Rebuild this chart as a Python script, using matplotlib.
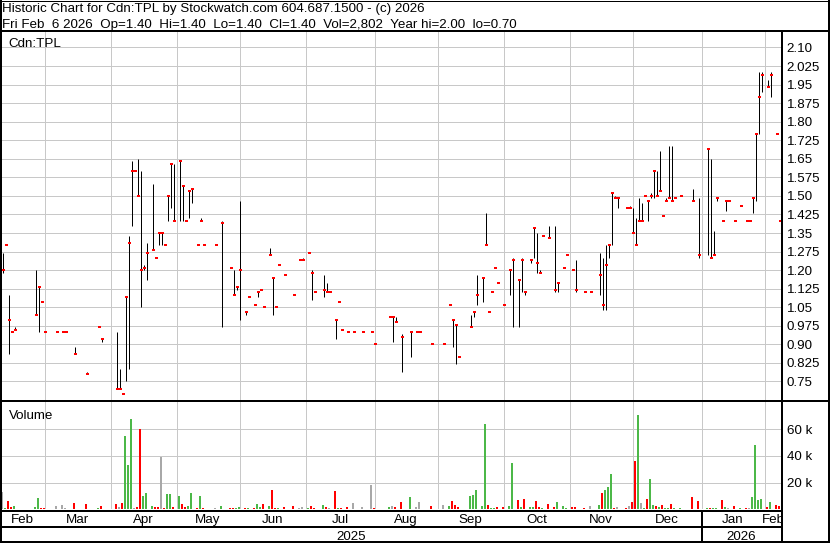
import matplotlib
matplotlib.use("Agg")
import matplotlib.pyplot as plt
import numpy as np
import pandas as pd

plt.rcParams["font.family"] = ["Liberation Sans", "DejaVu Sans"]

# ---------------- data ----------------
first_day = "2025-02-10"   # first weekday slot on the chart
last_day = "2026-02-06"    # last weekday slot on the chart

# weekday slot (0 = first_day) of every session with trades
trade_slot = [0, 1, 2, 3, 4, 11, 12, 13, 14, 18,
              20, 21, 24, 28, 32, 33, 38, 39, 40, 41,
              42, 43, 44, 45, 46, 47, 48, 50, 51, 52,
              53, 54, 55, 56, 57, 59, 60, 61, 62, 63,
              65, 66, 67, 71, 73, 76, 77, 78, 79, 81,
              82, 84, 85, 86, 87, 89, 90, 91, 92, 94,
              97, 99, 100, 102, 103, 104, 107, 108, 109, 111,
              112, 113, 115, 117, 120, 123, 124, 129, 130, 131,
              133, 136, 138, 139, 143, 147, 149, 150, 151, 152,
              156, 157, 158, 160, 161, 162, 163, 164, 165, 167,
              169, 170, 172, 173, 174, 176, 177, 178, 179, 180,
              182, 184, 185, 187, 188, 190, 191, 194, 196, 199,
              200, 201, 202, 203, 204, 205, 208, 209, 210, 211,
              212, 213, 214, 215, 216, 217, 218, 219, 220, 221,
              222, 223, 224, 226, 230, 232, 235, 236, 237, 238,
              240, 241, 242, 244, 246, 248, 249, 250, 251, 252,
              253, 255, 256, 258, 259]

high = [1.27, 1.30, 1.10, 0.95, 0.97, 1.20, 1.13, 1.07, 0.95, 0.95,
        0.95, 0.95, 0.89, 0.79, 0.97, 0.92, 0.95, 0.80, 0.70, 1.09,
        1.34, 1.64, 1.60, 1.65, 1.60, 1.22, 1.31, 1.55, 1.25, 1.35,
        1.35, 1.30, 1.50, 1.63, 1.63, 1.64, 1.54, 1.40, 1.52, 1.53,
        1.30, 1.41, 1.30, 1.30, 1.40, 1.21, 1.20, 1.13, 1.48, 1.03,
        1.09, 1.06, 1.11, 1.12, 1.05, 1.29, 1.17, 1.05, 1.22, 1.18,
        1.10, 1.24, 1.25, 1.27, 1.20, 1.11, 1.18, 1.15, 1.11, 1.00,
        1.07, 0.96, 0.95, 0.95, 0.95, 0.95, 0.90, 1.01, 1.01, 1.01,
        0.94, 0.95, 0.95, 0.95, 0.90, 0.90, 1.06, 1.00, 0.98, 0.85,
        1.02, 1.03, 1.18, 1.17, 1.43, 1.03, 1.11, 1.21, 1.15, 1.06,
        1.20, 1.25, 1.16, 1.25, 1.11, 1.24, 1.37, 1.35, 1.20, 1.34,
        1.38, 1.38, 1.15, 1.21, 1.26, 1.20, 1.24, 1.11, 1.11, 1.27,
        1.25, 1.30, 1.30, 1.51, 1.50, 1.49, 1.45, 1.46, 1.45, 1.41,
        1.49, 1.47, 1.50, 1.48, 1.51, 1.60, 1.60, 1.68, 1.42, 1.49,
        1.70, 1.70, 1.49, 1.50, 1.53, 1.49, 1.69, 1.65, 1.36, 1.49,
        1.40, 1.48, 1.48, 1.40, 1.46, 1.40, 1.40, 1.49, 1.75, 2.00,
        2.00, 1.97, 2.00, 1.75, 1.40]

low = [1.19, 1.30, 0.86, 0.95, 0.96, 1.02, 0.95, 1.07, 0.95, 0.95,
       0.95, 0.95, 0.86, 0.78, 0.97, 0.91, 0.72, 0.72, 0.70, 0.75,
       0.80, 1.38, 1.60, 1.50, 1.05, 1.20, 1.16, 1.28, 1.25, 1.30,
       1.30, 1.30, 1.40, 1.45, 1.40, 1.40, 1.40, 1.40, 1.41, 1.47,
       1.30, 1.40, 1.30, 1.30, 0.97, 1.21, 1.10, 1.12, 1.00, 1.02,
       1.09, 1.06, 1.09, 1.12, 1.05, 1.26, 1.02, 1.05, 1.22, 1.18,
       1.10, 1.24, 1.24, 1.27, 1.08, 1.11, 1.09, 1.11, 1.11, 0.92,
       1.07, 0.96, 0.95, 0.95, 0.95, 0.95, 0.90, 1.01, 0.91, 0.99,
       0.79, 0.85, 0.95, 0.95, 0.90, 0.90, 1.06, 0.89, 0.82, 0.85,
       0.97, 1.01, 1.06, 1.07, 1.30, 1.03, 1.11, 1.21, 1.15, 1.06,
       1.10, 0.97, 0.97, 1.11, 1.10, 1.23, 1.25, 1.19, 1.19, 1.34,
       1.33, 1.11, 1.11, 1.21, 1.26, 1.20, 1.11, 1.11, 1.11, 1.10,
       1.04, 1.04, 1.25, 1.30, 1.49, 1.45, 1.45, 1.45, 1.35, 1.30,
       1.40, 1.40, 1.50, 1.40, 1.49, 1.49, 1.50, 1.52, 1.42, 1.48,
       1.49, 1.48, 1.49, 1.50, 1.48, 1.25, 1.26, 1.25, 1.26, 1.48,
       1.40, 1.44, 1.48, 1.40, 1.46, 1.40, 1.40, 1.43, 1.48, 1.75,
       1.92, 1.94, 1.90, 1.75, 1.40]

close = [1.20, 1.30, 1.00, 0.95, 0.96, 1.02, 1.13, 1.07, 0.95, 0.95,
         0.95, 0.95, 0.86, 0.78, 0.97, 0.92, 0.72, 0.72, 0.70, 1.09,
         1.31, 1.60, 1.60, 1.50, 1.20, 1.21, 1.27, 1.28, 1.25, 1.35,
         1.35, 1.30, 1.50, 1.63, 1.40, 1.64, 1.54, 1.40, 1.52, 1.53,
         1.30, 1.40, 1.30, 1.30, 1.39, 1.21, 1.10, 1.13, 1.20, 1.03,
         1.09, 1.06, 1.11, 1.12, 1.05, 1.26, 1.17, 1.05, 1.22, 1.18,
         1.10, 1.24, 1.24, 1.27, 1.19, 1.11, 1.12, 1.11, 1.11, 1.00,
         1.07, 0.96, 0.95, 0.95, 0.95, 0.95, 0.90, 1.01, 1.01, 0.99,
         0.93, 0.95, 0.95, 0.95, 0.90, 0.90, 1.06, 1.00, 0.98, 0.85,
         0.97, 1.03, 1.10, 1.17, 1.30, 1.03, 1.11, 1.21, 1.15, 1.06,
         1.20, 1.24, 1.16, 1.24, 1.11, 1.24, 1.37, 1.23, 1.19, 1.34,
         1.33, 1.12, 1.15, 1.21, 1.26, 1.20, 1.12, 1.11, 1.11, 1.18,
         1.06, 1.22, 1.30, 1.51, 1.49, 1.49, 1.45, 1.45, 1.35, 1.30,
         1.40, 1.40, 1.50, 1.48, 1.50, 1.60, 1.50, 1.52, 1.42, 1.48,
         1.49, 1.48, 1.49, 1.50, 1.48, 1.26, 1.69, 1.25, 1.26, 1.49,
         1.40, 1.48, 1.48, 1.40, 1.46, 1.40, 1.40, 1.49, 1.75, 1.90,
         1.99, 1.94, 1.99, 1.75, 1.40]

volume = [13200, 1200, 6200, 1900, 2700, 1900, 8700, 1200, 1200, 2500,
          3200, 1200, 4900, 4000, 1200, 2500, 4000, 1900, 4900, 55000,
          33100, 67500, 1200, 1900, 60000, 9900, 12200, 2500, 1900, 1900,
          39100, 1200, 11400, 11400, 1900, 9900, 4200, 1400, 2700, 12200,
          1200, 9900, 1200, 1200, 2500, 1200, 1200, 1200, 1900, 1200,
          1200, 1200, 4000, 1400, 4000, 2700, 14400, 1200, 1200, 1900,
          2500, 1200, 1900, 1200, 2500, 1200, 3200, 1900, 1200, 13700,
          1200, 1200, 1900, 4900, 1900, 18200, 1200, 1900, 2700, 1900,
          5700, 9400, 1900, 5700, 2500, 3200, 2500, 6400, 3200, 1900,
          9900, 10700, 14400, 2500, 63800, 3200, 1200, 1200, 1900, 1900,
          2500, 34900, 7000, 1900, 7700, 1900, 1900, 6400, 1900, 1200,
          4000, 1900, 5700, 2500, 1200, 1900, 1900, 1200, 2500, 3200,
          12400, 14400, 16900, 26400, 1200, 1900, 1200, 2500, 5700, 36100,
          70500, 4500, 1200, 7700, 22700, 3200, 2500, 1900, 3200, 1200,
          1200, 4000, 1200, 1200, 9200, 6200, 1200, 1200, 1200, 1200,
          7000, 1900, 1200, 2500, 1200, 1200, 1200, 9400, 48100, 7000,
          7700, 1900, 5700, 3200, 2802]

# g = up day, r = down day, n = unchanged
vol_dir = ("ngrrgggrrn" "nnrrgrrnrg" "ggnrrgggrr" "nrggrgrrgg"
           "rgrngrrggr" "grggrgrrgr" "rnngrrgrnr" "grrnnnrgnr"
           "rgnnrngrrr" "gggggrggrr" "ggrgrggrrg" "rrgggrrrng"
           "rgggrnrnrr" "gngrggrgrg" "grggrrgrgg" "rgnrgrnggg"
           "grgrr")

price_tick_labels = ["0.75", "0.825", "0.90", "0.975", "1.05", "1.125", "1.20",
                     "1.275", "1.35", "1.425", "1.50", "1.575", "1.65", "1.725",
                     "1.80", "1.875", "1.95", "2.025", "2.10"]
volume_ticks = [20000, 40000, 60000]
volume_tick_labels = ["20 k", "40 k", "60 k"]
month_names = ["Feb", "Mar", "Apr", "May", "Jun", "Jul", "Aug", "Sep", "Oct",
               "Nov", "Dec", "Jan", "Feb"]
year_names = ["2025", "2026"]
symbol = "Cdn:TPL"
header_1 = "Historic Chart for Cdn:TPL by Stockwatch.com 604.687.1500 - (c) 2026"
header_2 = ("Fri Feb  6 2026  Op=1.40  Hi=1.40  Lo=1.40  Cl=1.40  "
            "Vol=2,802  Year hi=2.00  lo=0.70")

# ---------------- layout helpers ----------------
W, H = 830, 543
PX = 0.72          # points per pixel at 100 dpi
FS = 9.6
GRID = "#c8c8c8"
VCOL = {"g": "#4cb848", "r": "#ff0000", "n": "#a8a8a8"}

fig = plt.figure(figsize=(W / 100, H / 100), dpi=100)
fig.patch.set_facecolor("white")


def px_rect(x0, y0, x1, y1):
    return [x0 / W, 1 - y1 / H, (x1 - x0) / W, (y1 - y0) / H]


slots = pd.bdate_range(first_day, last_day)
SLOT_PX, SLOT0_PX, AX_RIGHT = 3.0, 2.5, 781.7
xlim = ((0 - SLOT0_PX) / SLOT_PX, (AX_RIGHT - SLOT0_PX) / SLOT_PX)

month_starts = pd.date_range(pd.Timestamp(first_day) + pd.offsets.MonthBegin(1),
                             last_day, freq="MS")
# a month that begins on a weekend gets its line one slot earlier
bounds = [int(slots.searchsorted(ms)) - (1 if ms.weekday() >= 5 else 0)
          for ms in month_starts]
year_bound = [b for b, ms in zip(bounds, month_starts) if ms.month == 1][0]

s = np.array(trade_slot, dtype=float)
hi = np.array(high)
lo = np.array(low)
cl = np.array(close)
vol = np.array(volume, dtype=float)

# ---------------- price panel ----------------
ax = fig.add_axes(px_rect(0, 31.5, AX_RIGHT, 400.5))
p_lo, p_hi = 0.75, 2.10
y_lo_px, y_hi_px = 381.5, 47.5
ppx = (p_hi - p_lo) / (y_lo_px - y_hi_px)
ax.set_ylim(p_lo - (400.5 - y_lo_px) * ppx, p_hi + (y_hi_px - 31.5) * ppx)
ax.set_xlim(*xlim)
rng = hi > lo
ax.vlines(s[rng], lo[rng], hi[rng], color="black", lw=1 * PX, zorder=3)
ax.hlines(cl, s - 1 / 6, s + 5 / 6, color="red", lw=2 * PX, zorder=4,
          capstyle="butt")
ax.set_xticks(bounds)
ax.tick_params(axis="x", length=0, labelbottom=False)
ax.set_yticks([float(t) for t in price_tick_labels], price_tick_labels)
ax.yaxis.tick_right()
ax.tick_params(axis="y", length=0, pad=5.1 * PX, labelsize=FS,
               labelright=True, labelleft=False)
for lab in ax.get_yticklabels():
    lab.set_va("center_baseline")
ax.grid(True, color=GRID, lw=1 * PX)
ax.set_axisbelow(True)
for sp in ax.spines.values():
    sp.set_visible(False)

# ---------------- volume panel ----------------
axv = fig.add_axes(px_rect(0, 402.3, AX_RIGHT, 509.3))
axv.set_xlim(*xlim)
axv.set_ylim(0, 80000)
axv.bar(s - 1 / 6, vol, width=2 / 3, color=[VCOL[c] for c in vol_dir],
        linewidth=0, zorder=3)
axv.set_xticks(bounds)
axv.tick_params(axis="x", length=0, labelbottom=False)
axv.set_yticks(volume_ticks, volume_tick_labels)
axv.yaxis.tick_right()
axv.tick_params(axis="y", length=0, pad=5.1 * PX, labelsize=FS,
                labelright=True, labelleft=False)
for lab in axv.get_yticklabels():
    lab.set_va("center_baseline")
axv.grid(True, color=GRID, lw=1 * PX)
axv.set_axisbelow(True)
for sp in axv.spines.values():
    sp.set_visible(False)

# ---------------- month / year rows ----------------
axm = fig.add_axes(px_rect(0, 511, AX_RIGHT, 543))
axm.set_xlim(*xlim)
axm.set_ylim(543, 511)
axm.axis("off")
edges = [xlim[0]] + bounds + [xlim[1]]
for k, name in enumerate(month_names):
    axm.text((edges[k] + edges[k + 1]) / 2, 523.3, name, ha="center",
             va="baseline", fontsize=FS, clip_on=True)
yedges = [xlim[0], year_bound, xlim[1]]
for k, name in enumerate(year_names):
    axm.text((yedges[k] + yedges[k + 1]) / 2, 540, name, ha="center",
             va="baseline", fontsize=FS, clip_on=True)
axm.plot([year_bound, year_bound], [511, 543], color="black", lw=2 * PX,
         solid_capstyle="butt", clip_on=False)

# ---------------- frame and header ----------------
axo = fig.add_axes([0, 0, 1, 1])
axo.set_xlim(0, W)
axo.set_ylim(H, 0)
axo.axis("off")
axo.set_zorder(10)
axo.patch.set_alpha(0)


def hl(y, x0, x1, w=2):
    axo.plot([x0, x1], [y, y], color="black", lw=w * PX, solid_capstyle="butt")


def vl(x, y0, y1, w=2):
    axo.plot([x, x], [y0, y1], color="black", lw=w * PX, solid_capstyle="butt")


hl(0.5, 0, W, 1)
hl(30.5, 0, W)
hl(401, 0, W)
hl(511, 0, AX_RIGHT)
hl(526.7, 0, AX_RIGHT)
hl(542, 0, W)
vl(1, 0, H)
vl(828.5, 0, H)
vl(AX_RIGHT, 30.5, H)

axo.text(2, 12.3, header_1, fontsize=FS, va="baseline", ha="left")
axo.text(2, 27.7, header_2, fontsize=FS, va="baseline", ha="left")
axo.text(8.5, 46.6, symbol, fontsize=FS, va="baseline", ha="left")
axo.text(8.5, 419, "Volume", fontsize=FS, va="baseline", ha="left")

fig.savefig("out.png", dpi=100)
